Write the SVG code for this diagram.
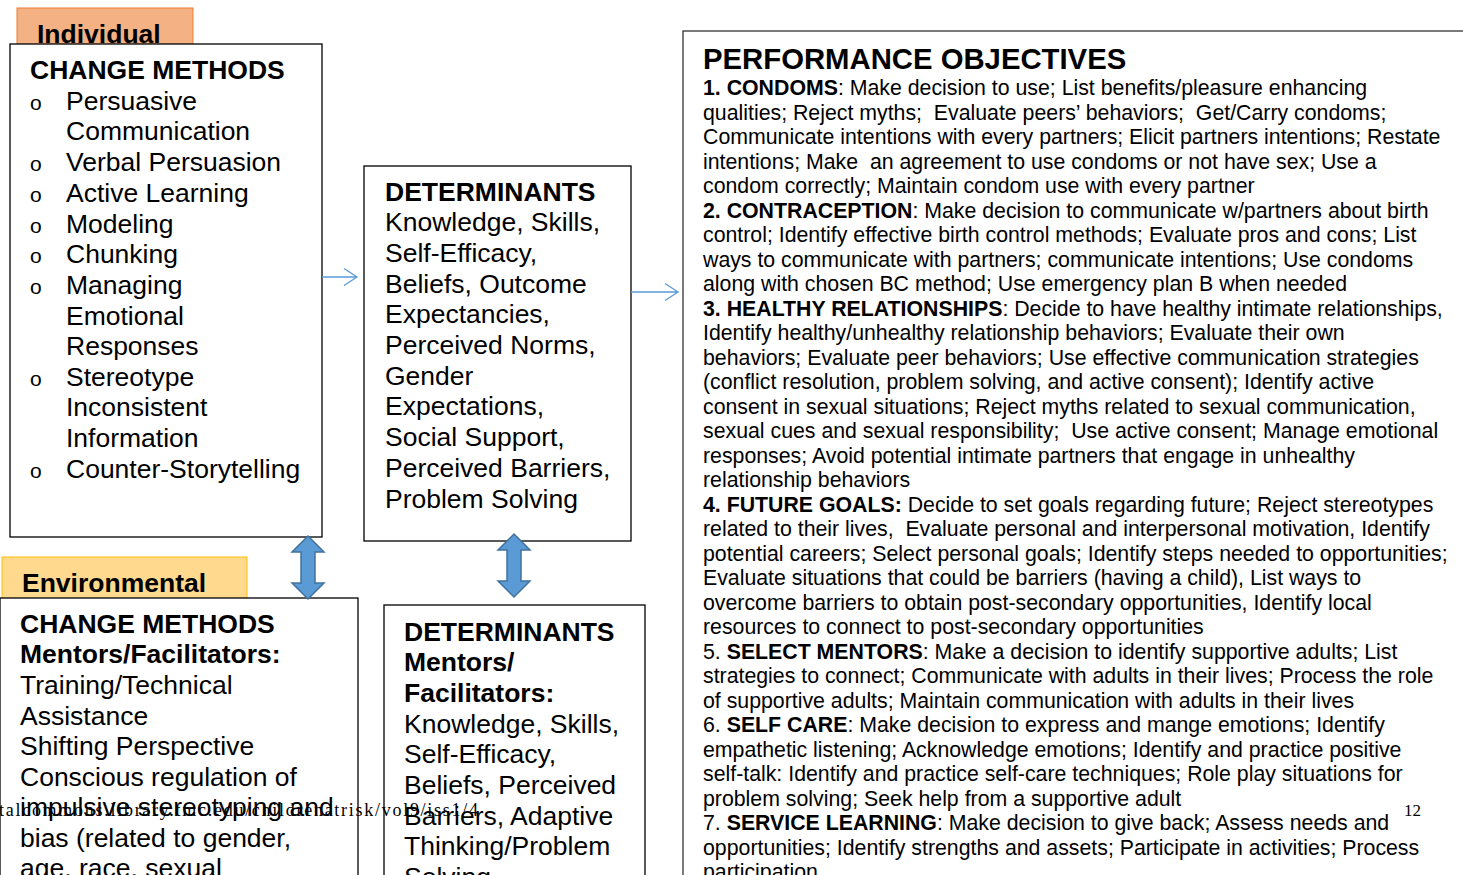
<svg xmlns="http://www.w3.org/2000/svg" width="1463" height="875" viewBox="0 0 1463 875">
<defs>
<style>
text{font-family:"Liberation Sans",Arial,sans-serif;fill:#000;white-space:pre}
.big{font-size:26.5px}
.b{font-weight:bold}
.po{font-size:21.3px}
.ttl{font-size:29.3px;font-weight:bold}
.box{fill:#fff;stroke:#000;stroke-width:1.3}
.serif{font-family:"Liberation Serif","Times New Roman",serif}
.thin{stroke:#5b9bd5;stroke-width:1.3;fill:none}
.blk{fill:#5b9bd5;stroke:#41719c;stroke-width:1.5}
.bul{font-size:21px}
</style>
</defs>
<rect width="1463" height="875" fill="#fff"/>

<g id="individual-tab">
<rect x="17" y="8" width="176" height="40" fill="#f4b183" stroke="#ed7d31" stroke-width="1"/>
<text class="big b" x="37" y="43">Individual</text>
</g>
<g id="individual-methods">
<rect class="box" x="10" y="44" width="312" height="493"/>
<text class="big b" x="30" y="79">CHANGE METHODS</text>
<g class="bul"><text class="bul" x="30" y="110">o</text><text class="bul" x="30" y="171">o</text><text class="bul" x="30" y="202">o</text><text class="bul" x="30" y="233">o</text><text class="bul" x="30" y="263">o</text><text class="bul" x="30" y="294">o</text><text class="bul" x="30" y="386">o</text><text class="bul" x="30" y="478">o</text></g>
<text class="big" x="66" y="110">Persuasive</text>
<text class="big" x="66" y="140">Communication</text>
<text class="big" x="66" y="171">Verbal Persuasion</text>
<text class="big" x="66" y="202">Active Learning</text>
<text class="big" x="66" y="233">Modeling</text>
<text class="big" x="66" y="263">Chunking</text>
<text class="big" x="66" y="294">Managing</text>
<text class="big" x="66" y="325">Emotional</text>
<text class="big" x="66" y="355">Responses</text>
<text class="big" x="66" y="386">Stereotype</text>
<text class="big" x="66" y="416">Inconsistent</text>
<text class="big" x="66" y="447">Information</text>
<text class="big" x="66" y="478">Counter-Storytelling</text>
</g>

<g id="individual-determinants">
<rect class="box" x="364" y="166" width="267" height="375"/>
<text class="big b" x="385" y="201">DETERMINANTS</text>
<text class="big" x="385" y="231">Knowledge, Skills,</text>
<text class="big" x="385" y="262">Self-Efficacy,</text>
<text class="big" x="385" y="293">Beliefs, Outcome</text>
<text class="big" x="385" y="323">Expectancies,</text>
<text class="big" x="385" y="354">Perceived Norms,</text>
<text class="big" x="385" y="385">Gender</text>
<text class="big" x="385" y="415">Expectations,</text>
<text class="big" x="385" y="446">Social Support,</text>
<text class="big" x="385" y="477">Perceived Barriers,</text>
<text class="big" x="385" y="508">Problem Solving</text>
</g>

<g id="performance-objectives">
<rect x="683" y="31" width="800" height="860" fill="#fff" stroke="#333" stroke-width="1.3"/>
<text class="ttl" x="703" y="69">PERFORMANCE OBJECTIVES</text>
<text class="po" x="703" y="95"><tspan class="b">1. CONDOMS</tspan>: Make decision to use; List benefits/pleasure enhancing</text>
<text class="po" x="703" y="119.5">qualities; Reject myths;  Evaluate peers’ behaviors;  Get/Carry condoms;</text>
<text class="po" x="703" y="144">Communicate intentions with every partners; Elicit partners intentions; Restate</text>
<text class="po" x="703" y="168.5">intentions; Make  an agreement to use condoms or not have sex; Use a</text>
<text class="po" x="703" y="193">condom correctly; Maintain condom use with every partner</text>
<text class="po" x="703" y="217.5"><tspan class="b">2. CONTRACEPTION</tspan>: Make decision to communicate w/partners about birth</text>
<text class="po" x="703" y="242">control; Identify effective birth control methods; Evaluate pros and cons; List</text>
<text class="po" x="703" y="266.5">ways to communicate with partners; communicate intentions; Use condoms</text>
<text class="po" x="703" y="291">along with chosen BC method; Use emergency plan B when needed</text>
<text class="po" x="703" y="315.5"><tspan class="b">3. HEALTHY RELATIONSHIPS</tspan>: Decide to have healthy intimate relationships,</text>
<text class="po" x="703" y="340">Identify healthy/unhealthy relationship behaviors; Evaluate their own</text>
<text class="po" x="703" y="364.5">behaviors; Evaluate peer behaviors; Use effective communication strategies</text>
<text class="po" x="703" y="389">(conflict resolution, problem solving, and active consent); Identify active</text>
<text class="po" x="703" y="413.5">consent in sexual situations; Reject myths related to sexual communication,</text>
<text class="po" x="703" y="438">sexual cues and sexual responsibility;  Use active consent; Manage emotional</text>
<text class="po" x="703" y="462.5">responses; Avoid potential intimate partners that engage in unhealthy</text>
<text class="po" x="703" y="487">relationship behaviors</text>
<text class="po" x="703" y="511.5"><tspan class="b">4. FUTURE GOALS:</tspan> Decide to set goals regarding future; Reject stereotypes</text>
<text class="po" x="703" y="536">related to their lives,  Evaluate personal and interpersonal motivation, Identify</text>
<text class="po" x="703" y="560.5">potential careers; Select personal goals; Identify steps needed to opportunities;</text>
<text class="po" x="703" y="585">Evaluate situations that could be barriers (having a child), List ways to</text>
<text class="po" x="703" y="609.5">overcome barriers to obtain post-secondary opportunities, Identify local</text>
<text class="po" x="703" y="634">resources to connect to post-secondary opportunities</text>
<text class="po" x="703" y="658.5">5. <tspan class="b">SELECT MENTORS</tspan>: Make a decision to identify supportive adults; List</text>
<text class="po" x="703" y="683">strategies to connect; Communicate with adults in their lives; Process the role</text>
<text class="po" x="703" y="707.5">of supportive adults; Maintain communication with adults in their lives</text>
<text class="po" x="703" y="732">6. <tspan class="b">SELF CARE</tspan>: Make decision to express and mange emotions; Identify</text>
<text class="po" x="703" y="756.5">empathetic listening; Acknowledge emotions; Identify and practice positive</text>
<text class="po" x="703" y="781">self-talk: Identify and practice self-care techniques; Role play situations for</text>
<text class="po" x="703" y="805.5">problem solving; Seek help from a supportive adult</text>
<text class="po" x="703" y="830">7. <tspan class="b">SERVICE LEARNING</tspan>: Make decision to give back; Assess needs and</text>
<text class="po" x="703" y="854.5">opportunities; Identify strengths and assets; Participate in activities; Process</text>
<text class="po" x="703" y="879">participation</text>
</g>

<g id="environmental-tab">
<rect x="2" y="557" width="245" height="45" fill="#ffd98e" stroke="#ffc000" stroke-width="1"/>
<text class="big b" x="22" y="592">Environmental</text>
</g>
<g id="environmental-methods">
<rect class="box" x="0" y="598" width="358" height="300"/>
<text class="big b" x="20" y="633">CHANGE METHODS</text>
<text class="big b" x="20" y="663">Mentors/Facilitators:</text>
<text class="big" x="20" y="694">Training/Technical</text>
<text class="big" x="20" y="725">Assistance</text>
<text class="big" x="20" y="755">Shifting Perspective</text>
<text class="big" x="20" y="786">Conscious regulation of</text>
<text class="big" x="20" y="816">impulsive stereotyping and</text>
<text class="big" x="20" y="847">bias (related to gender,</text>
<text class="big" x="20" y="877">age, race, sexual</text>
</g>

<g id="environmental-determinants">
<rect class="box" x="384" y="605" width="261" height="300"/>
<text class="big b" x="404" y="641">DETERMINANTS</text>
<text class="big b" x="404" y="671">Mentors/</text>
<text class="big b" x="404" y="702">Facilitators:</text>
<text class="big" x="404" y="733">Knowledge, Skills,</text>
<text class="big" x="404" y="763">Self-Efficacy,</text>
<text class="big" x="404" y="794">Beliefs, Perceived</text>
<text class="big" x="404" y="825">Barriers, Adaptive</text>
<text class="big" x="404" y="855">Thinking/Problem</text>
<text class="big" x="404" y="886">Solving</text>
</g>

<g id="connectors">
<path class="thin" d="M322 277 H357 M344 268.5 L357 277 L344 285.5"/>
<path class="thin" d="M631 292 H678 M665 283.5 L678 292 L665 300.5"/>
<path class="blk" d="M308 536 L324 552 L315 552 L315 583 L324 583 L308 599 L292 583 L301 583 L301 552 L292 552 Z"/>
<path class="blk" d="M514 534 L530 550 L521 550 L521 581 L530 581 L514 597 L498 581 L507 581 L507 550 L498 550 Z"/>
</g>

<text class="serif" x="-1" y="816" font-size="18" textLength="479" lengthAdjust="spacing">talcommons.library.tmc.edu/childrenatrisk/vol9/iss1/4</text>
<text class="serif" x="1404" y="816" font-size="17">12</text>
</svg>
